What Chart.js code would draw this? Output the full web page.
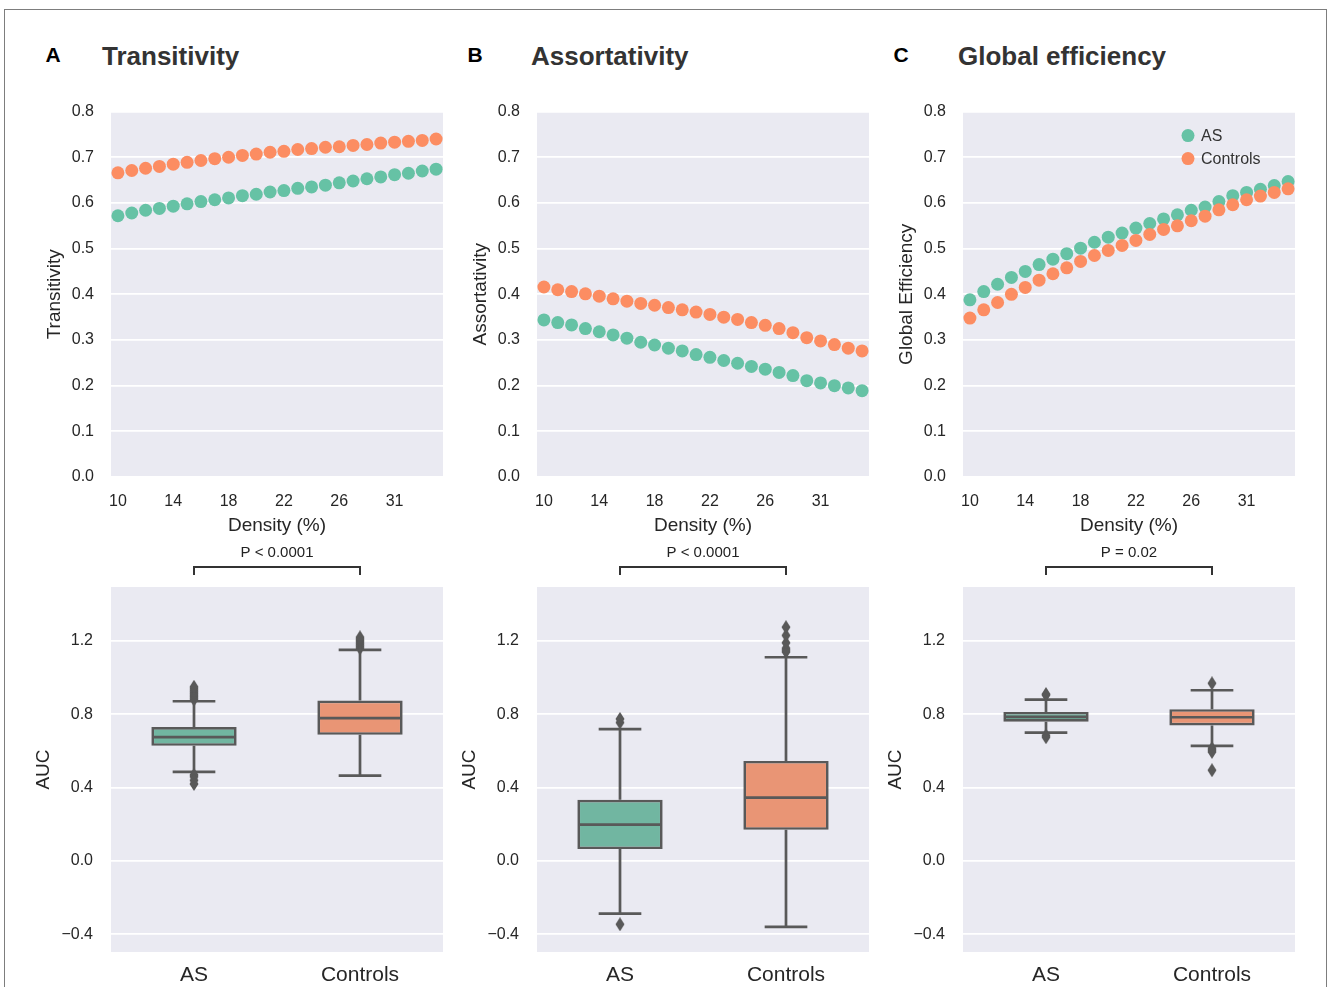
<!DOCTYPE html>
<html><head><meta charset="utf-8">
<script src="https://cdn.jsdelivr.net/npm/chart.js@4.4.0/dist/chart.umd.min.js"></script>
<style>
html,body{margin:0;padding:0;background:#fff;}
body{width:1328px;height:987px;position:relative;overflow:hidden;font-family:"Liberation Sans",Arial,sans-serif;}
#frame{position:absolute;left:4px;top:9px;width:1323px;height:1000px;border:1px solid #7d7d7d;box-sizing:border-box;}
canvas{position:absolute;}
.let{position:absolute;font-weight:bold;color:#000;font-size:21px;line-height:1;transform:translate(-50%,-50%);font-family:"Liberation Sans Narrow","Liberation Sans",Arial,sans-serif;}
.ttl{position:absolute;font-weight:bold;color:#333;font-size:26px;line-height:1;transform:translateY(-50%);white-space:nowrap;}
</style></head><body>
<div id="frame"></div>
<div class="let" style="left:53px;top:54px">A</div>
<div class="ttl" style="left:102px;top:56px">Transitivity</div>
<div class="let" style="left:475px;top:54px">B</div>
<div class="ttl" style="left:531px;top:56px">Assortativity</div>
<div class="let" style="left:901px;top:54px">C</div>
<div class="ttl" style="left:958px;top:56px">Global efficiency</div>
<canvas id="tA"></canvas><canvas id="tB"></canvas><canvas id="tC"></canvas>
<canvas id="bA"></canvas><canvas id="bB"></canvas><canvas id="bC"></canvas>
<script>
// ---------- data ----------
const densityLabels = ['10','11','12','13','14','15','16','17','18','19','20','21','22','23','24','25','26','27','28','29','31','32','33','34'];
const seriesNames = ['AS','Controls'];

const transAS   = [0.572,0.578,0.584,0.588,0.593,0.598,0.603,0.607,0.611,0.616,0.619,0.624,0.627,0.632,0.635,0.639,0.644,0.648,0.653,0.657,0.662,0.665,0.670,0.674];
const transCtrl = [0.666,0.671,0.676,0.680,0.685,0.689,0.693,0.697,0.700,0.704,0.707,0.711,0.713,0.717,0.719,0.722,0.723,0.726,0.728,0.731,0.733,0.735,0.737,0.740];
const assortAS   = [0.344,0.338,0.333,0.325,0.318,0.311,0.304,0.295,0.289,0.282,0.276,0.268,0.262,0.255,0.249,0.242,0.236,0.229,0.222,0.211,0.206,0.200,0.195,0.189];
const assortCtrl = [0.416,0.410,0.406,0.401,0.396,0.390,0.385,0.380,0.376,0.371,0.366,0.361,0.356,0.350,0.345,0.338,0.332,0.325,0.316,0.305,0.298,0.290,0.282,0.276];
const effAS   = [0.388,0.406,0.422,0.437,0.450,0.465,0.477,0.489,0.501,0.514,0.525,0.534,0.545,0.555,0.565,0.574,0.584,0.591,0.603,0.616,0.623,0.630,0.638,0.647];
const effCtrl = [0.348,0.366,0.382,0.400,0.415,0.431,0.445,0.458,0.472,0.485,0.496,0.507,0.518,0.531,0.542,0.550,0.561,0.571,0.585,0.596,0.607,0.615,0.623,0.631];

const topYTicks = [0.0,0.1,0.2,0.3,0.4,0.5,0.6,0.7,0.8];
const aucYTicks = [-0.4,0.0,0.4,0.8,1.2];
const boxGroups = ['AS','Controls'];

// boxplot stats per group [AS, Controls]
const transQ1 = [0.628,0.688], transMed = [0.675,0.779], transQ3 = [0.731,0.875], transLo = [0.486,0.466], transHi = [0.871,1.151];
const transOutAS = [0.88,0.89,0.90,0.91,0.92,0.93,0.94,0.95,0.47,0.46,0.44,0.42];
const transOutCtrl = [1.16,1.17,1.18,1.19,1.20,1.21,1.22];
const assortQ1 = [0.065,0.170], assortMed = [0.198,0.346], assortQ3 = [0.334,0.546], assortLo = [-0.287,-0.359], assortHi = [0.719,1.111];
const assortOutAS = [0.755,0.775,-0.345];
const assortOutCtrl = [1.14,1.15,1.16,1.19,1.23,1.275];
const effQ1 = [0.759,0.739], effMed = [0.786,0.784], effQ3 = [0.813,0.828], effLo = [0.700,0.628], effHi = [0.880,0.931];
const effOutAS = [0.905,0.91,0.685,0.675];
const effOutCtrl = [0.969,0.615,0.605,0.595,0.495];
const pValues = ['P < 0.0001','P < 0.0001','P = 0.02'];

// ---------- styling ----------
const GREEN = '#66c2a5', ORANGE = '#fc8d62';
const BOX_GREEN = '#71b6a1', BOX_ORANGE = '#e99575';
const EDGE = '#595959';
const BG = '#eaeaf2';
const TXT = '#262626';
Chart.defaults.font.family = '"Liberation Sans", Arial, sans-serif';
Chart.defaults.color = TXT;

const bgPlugin = {
  id:'bgFill',
  beforeDraw(chart){
    const a = chart.chartArea, c = chart.ctx;
    c.save(); c.fillStyle = BG; c.fillRect(a.left, a.top, a.right-a.left, a.bottom-a.top); c.restore();
  }
};

const dotLegend = {
  id:'dotLegend',
  afterDatasetsDraw(chart, args, opts){
    if(!opts.show) return;
    const a = chart.chartArea, c = chart.ctx;
    c.save();
    chart.data.datasets.forEach((ds, i) => {
      const x = a.right - 107, y = a.top + 24 + i*23;
      c.fillStyle = ds.pointBackgroundColor;
      c.beginPath(); c.arc(x, y, 6.5, 0, Math.PI*2); c.fill();
      c.fillStyle = '#333'; c.font = '16px "Liberation Sans", Arial, sans-serif';
      c.textBaseline = 'middle'; c.textAlign = 'left';
      c.fillText(ds.label, x + 13, y + 1);
    });
    c.restore();
  }
};

const boxParts = {
  id:'boxParts',
  beforeDatasetsDraw(chart, args, o){
    const y = chart.scales.y, c = chart.ctx;
    const meta = chart.getDatasetMeta(0);
    c.save(); c.strokeStyle = EDGE; c.lineWidth = 2.7; c.lineCap = 'butt';
    meta.data.forEach((bar, i) => {
      const x = bar.x, w = bar.width;
      c.beginPath();
      c.moveTo(x, y.getPixelForValue(o.q3[i])); c.lineTo(x, y.getPixelForValue(o.hi[i]));
      c.moveTo(x, y.getPixelForValue(o.q1[i])); c.lineTo(x, y.getPixelForValue(o.lo[i]));
      const yh = y.getPixelForValue(o.hi[i]), yl = y.getPixelForValue(o.lo[i]);
      c.moveTo(x - w/4, yh); c.lineTo(x + w/4, yh);
      c.moveTo(x - w/4, yl); c.lineTo(x + w/4, yl);
      c.stroke();
    });
    c.restore();
  },
  afterDatasetsDraw(chart, args, o){
    const y = chart.scales.y, xs = chart.scales.x, c = chart.ctx, a = chart.chartArea;
    const meta = chart.getDatasetMeta(0);
    c.save(); c.strokeStyle = EDGE; c.lineWidth = 2.7;
    meta.data.forEach((bar, i) => {
      const x = bar.x, w = bar.width, ym = y.getPixelForValue(o.med[i]);
      c.beginPath(); c.moveTo(x - w/2 + 1.5, ym); c.lineTo(x + w/2 - 1.5, ym); c.stroke();
    });
    // significance bracket
    const x0 = xs.getPixelForValue(0), x1 = xs.getPixelForValue(1);
    c.strokeStyle = '#333'; c.lineWidth = 2;
    c.beginPath();
    c.moveTo(x0, a.top - 12); c.lineTo(x0, a.top - 20); c.lineTo(x1, a.top - 20); c.lineTo(x1, a.top - 12);
    c.stroke();
    c.fillStyle = '#222'; c.font = '15px "Liberation Sans", Arial, sans-serif';
    c.textAlign = 'center'; c.textBaseline = 'middle';
    c.fillText(o.p, (x0 + x1)/2, a.top - 34);
    c.restore();
  }
};

// thin diamond marker
const diamond = document.createElement('canvas');
diamond.width = 10; diamond.height = 14;
(function(){
  const d = diamond.getContext('2d');
  d.fillStyle = EDGE; d.beginPath();
  d.moveTo(5,0); d.lineTo(9.5,7); d.lineTo(5,14); d.lineTo(0.5,7); d.closePath(); d.fill();
})();

const areaLefts = [111, 537, 963];
const areaW = 332;

function setupCanvas(id, left, top, w, h){
  const cv = document.getElementById(id);
  cv.width = w; cv.height = h;
  cv.style.left = left + 'px'; cv.style.top = top + 'px';
  cv.style.width = w + 'px'; cv.style.height = h + 'px';
  return cv;
}

function topChart(id, idx, asData, ctrlData, yTitle, legend){
  const W = 70;
  const cv = setupCanvas(id, areaLefts[idx] - W, 85, W + areaW + 10, 457);
  return new Chart(cv, {
    type:'line',
    data:{ labels: densityLabels, datasets:[
      {label: seriesNames[0], data: asData, showLine:false, order:1, pointRadius:6.5, pointBorderWidth:0, pointBackgroundColor:GREEN, backgroundColor:GREEN, borderColor:GREEN},
      {label: seriesNames[1], data: ctrlData, showLine:false, order:0, pointRadius:6.5, pointBorderWidth:0, pointBackgroundColor:ORANGE, backgroundColor:ORANGE, borderColor:ORANGE}
    ]},
    options:{
      responsive:false, animation:false, events:[],
      layout:{padding:{top:10, right:10, left:0, bottom:0}},
      plugins:{ legend:{display:false}, tooltip:{enabled:false}, dotLegend:{show:legend} },
      scales:{
        x:{ type:'category', offset:true, grid:{display:false, drawTicks:false}, border:{display:false},
            ticks:{autoSkip:false, maxRotation:0, minRotation:0, padding:15, color:TXT, font:{size:16},
                   callback:function(v, i){ return i % 4 === 0 ? this.getLabelForValue(v) : ''; }},
            title:{display:true, text:'Density (%)', color:TXT, font:{size:19}, padding:{top:0, bottom:5}},
            afterFit:(s)=>{ s.height = 65; } },
        y:{ min:0, max:0.8, grid:{color:'#ffffff', lineWidth:1.8, drawTicks:false}, border:{display:false},
            afterBuildTicks:(s)=>{ s.ticks = topYTicks.map(v=>({value:v})); },
            ticks:{padding:17, color:TXT, font:{size:16}, callback:(v)=>Number(v).toFixed(1)},
            title:{display:true, text:yTitle, color:TXT, font:{size:19}, padding:{top:2, bottom:0}},
            afterFit:(s)=>{ s.width = W; } }
      }
    },
    plugins:[bgPlugin, dotLegend]
  });
}

function boxChart(id, idx, q1, med, q3, lo, hi, outAS, outCtrl, p){
  const W = 80;
  const cv = setupCanvas(id, areaLefts[idx] - W, 537, W + areaW + 10, 50 + 365 + 35);
  const outliers = outAS.map(v=>({x:boxGroups[0], y:v})).concat(outCtrl.map(v=>({x:boxGroups[1], y:v})));
  return new Chart(cv, {
    type:'bar',
    data:{ labels: boxGroups, datasets:[
      {type:'bar', label:'box', data: q1.map((v,i)=>[v, q3[i]]), backgroundColor:[BOX_GREEN, BOX_ORANGE],
       borderColor:EDGE, borderWidth:2.7, borderSkipped:false, barPercentage:0.514, categoryPercentage:1, order:1},
      {type:'line', label:'outliers', data: outliers, showLine:false, pointStyle: diamond, pointRadius:5,
       pointBackgroundColor:EDGE, pointBorderColor:EDGE, order:0}
    ]},
    options:{
      responsive:false, animation:false, events:[],
      layout:{padding:{top:50, right:10, left:0, bottom:0}},
      plugins:{ legend:{display:false}, tooltip:{enabled:false},
                boxParts:{q1:q1, med:med, q3:q3, lo:lo, hi:hi, p:p} },
      scales:{
        x:{ type:'category', offset:true, grid:{display:false, drawTicks:false}, border:{display:false},
            ticks:{padding:11, color:TXT, font:{size:21}},
            afterFit:(s)=>{ s.height = 35; } },
        y:{ min:-0.496, max:1.494, grid:{color:'#ffffff', lineWidth:1.8, drawTicks:false}, border:{display:false},
            afterBuildTicks:(s)=>{ s.ticks = aucYTicks.map(v=>({value:v})); },
            ticks:{padding:18, color:TXT, font:{size:16}, callback:(v)=>{ const t = Math.abs(v).toFixed(1); return v < -1e-9 ? '\u2212' + t : t; }},
            title:{display:true, text:'AUC', color:TXT, font:{size:19}, padding:{top:1, bottom:0}},
            afterFit:(s)=>{ s.width = W; } }
      }
    },
    plugins:[bgPlugin, boxParts]
  });
}

topChart('tA', 0, transAS, transCtrl, 'Transitivity', false);
topChart('tB', 1, assortAS, assortCtrl, 'Assortativity', false);
topChart('tC', 2, effAS, effCtrl, 'Global Efficiency', true);
boxChart('bA', 0, transQ1, transMed, transQ3, transLo, transHi, transOutAS, transOutCtrl, pValues[0]);
boxChart('bB', 1, assortQ1, assortMed, assortQ3, assortLo, assortHi, assortOutAS, assortOutCtrl, pValues[1]);
boxChart('bC', 2, effQ1, effMed, effQ3, effLo, effHi, effOutAS, effOutCtrl, pValues[2]);
</script>
</body></html>
